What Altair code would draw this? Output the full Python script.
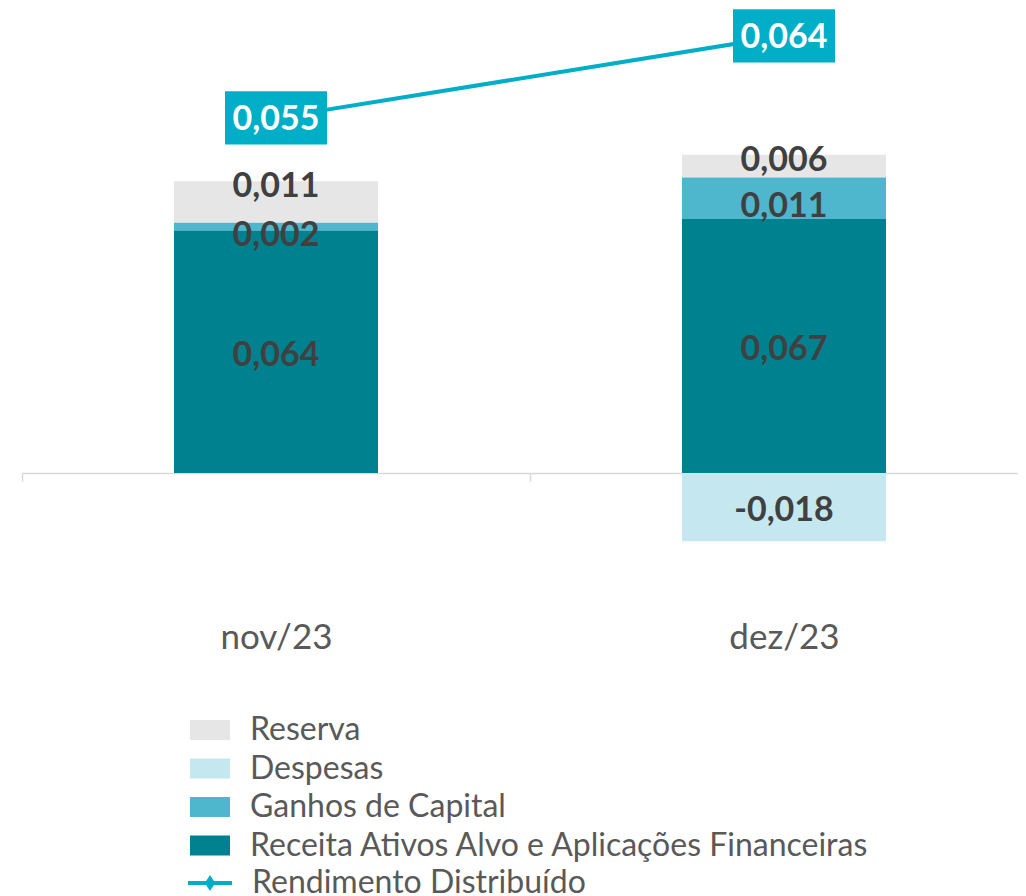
import altair as alt
import pandas as pd

# ---- data ----
months = ["nov/23", "dez/23"]
series_names = ["Reserva", "Despesas", "Ganhos de Capital",
                "Receita Ativos Alvo e Aplicações Financeiras"]
stack_order = [4, 3, 2, 1]
reserva = [0.011, 0.006]
despesas = [0.0, -0.018]
ganhos = [0.002, 0.011]
receita = [0.064, 0.067]
rendimento = [0.055, 0.064]
line_name = "Rendimento Distribuído"

colors = ["#E6E6E6", "#C5E7EF", "#4EB7CD", "#00818F"]
line_color = "#00AEC7"
label_color = "#404040"
text_grey = "#595959"
FONT = "Lato"

rows = []
for s, o, vals in zip(series_names, stack_order, [reserva, despesas, ganhos, receita]):
    for m, v in zip(months, vals):
        rows.append({"month": m, "series": s, "ord": o, "value": v})
bar_df = pd.DataFrame(rows)
line_df = pd.DataFrame({"month": months, "value": rendimento,
                        "series": [line_name] * len(months)})

W, H = 1016, 600
y1_dom = [-0.03562, 0.12269]
y2_dom = [0.001207, 0.06706]
LBL = "replace(replace(format(datum.value, '.3f'), '.', ','), '\u2212', '-')"

x_enc = alt.X(
    "month:N", sort=months,
    scale=alt.Scale(domain=months, paddingInner=0, paddingOuter=0),
    axis=alt.Axis(title=None, orient="bottom", offset=-135,
                  domainColor="#D9D9D9", domainWidth=1.5,
                  tickColor="#D9D9D9", tickWidth=1.5, tickSize=8, tickBand="extent",
                  labelAngle=0, labelFont=FONT, labelFontSize=35, labelColor=text_grey,
                  labelPadding=139, grid=False),
)
y1_scale = alt.Scale(domain=y1_dom, nice=False, zero=False)

bars = alt.Chart(bar_df).transform_filter("datum.value != 0").mark_bar(width=204).encode(
    x=x_enc,
    y=alt.Y("value:Q", stack="zero", scale=y1_scale, axis=None),
    fill=alt.Fill("series:N",
                  scale=alt.Scale(domain=series_names, range=colors),
                  legend=alt.Legend(orient="none", legendX=168, legendY=702, title=None,
                                    symbolType="M-1,-0.5L1,-0.5L1,0.5L-1,0.5Z",
                                    symbolSize=1600, symbolStrokeWidth=0,
                                    labelFont=FONT, labelFontSize=32, labelColor=text_grey,
                                    labelOffset=20, rowPadding=2.5, labelLimit=0)),
    order=alt.Order("ord:Q"),
)

stacked = alt.Chart(bar_df).transform_filter("datum.value != 0").transform_stack(
    stack="value", groupby=["month"], sort=[alt.SortField("ord")], as_=["v0", "v1"]
).transform_calculate(
    mid="(datum.v0 + datum.v1) / 2",
    lbl=LBL,
)


def label_layer(filter_expr, field, dy):
    return stacked.transform_filter(filter_expr).mark_text(
        font=FONT, fontWeight="bold", fontSize=34, color=label_color,
        align="center", baseline="middle", dy=dy).encode(
        x=x_enc,
        y=alt.Y(f"{field}:Q", scale=y1_scale, axis=None),
        text="lbl:N",
    )


lab_reserva = label_layer("datum.series == 'Reserva'", "v1", 6)
lab_ganhos = label_layer("datum.series == 'Ganhos de Capital'", "mid", 9)
lab_other = label_layer(
    "datum.series != 'Reserva' && datum.series != 'Ganhos de Capital'", "mid", 4)

y2 = alt.Y("value:Q", scale=alt.Scale(domain=y2_dom, nice=False, zero=False), axis=None)

line = alt.Chart(line_df).mark_line(strokeWidth=4).encode(
    x=x_enc, y=y2,
    stroke=alt.Stroke("series:N", scale=alt.Scale(domain=[line_name], range=[line_color]),
                      legend=alt.Legend(orient="none", legendX=164, legendY=851, title=None,
                                        symbolType="M-1,0L1,0M-0.13,0L0,-0.2L0.13,0L0,0.2Z",
                                        symbolSize=1936, symbolStrokeWidth=4,
                                        symbolFillColor=line_color,
                                        labelFont=FONT, labelFontSize=32, labelColor=text_grey,
                                        labelOffset=18, labelLimit=0)),
)

boxes = alt.Chart(line_df).mark_point(
    shape="M-1,-0.52L1,-0.52L1,0.52L-1,0.52Z", size=10404, filled=True,
    opacity=1, color=line_color, strokeWidth=0).encode(x=x_enc, y=y2)

box_labels = alt.Chart(line_df).transform_calculate(lbl=LBL).mark_text(
    font=FONT, fontWeight="bold", fontSize=34, color="white",
    align="center", baseline="middle", dy=2).encode(x=x_enc, y=y2, text="lbl:N")

chart = alt.layer(bars, lab_reserva, lab_ganhos, lab_other, line, boxes, box_labels).resolve_scale(
    y="independent"
).properties(
    width=W, height=H,
    autosize=alt.AutoSizeParams(type="none"),
    padding={"left": 14, "top": 0, "right": -20, "bottom": 288},
).configure_view(stroke=None)

chart.save("out.html", embed_options={"renderer": "svg", "actions": False})
